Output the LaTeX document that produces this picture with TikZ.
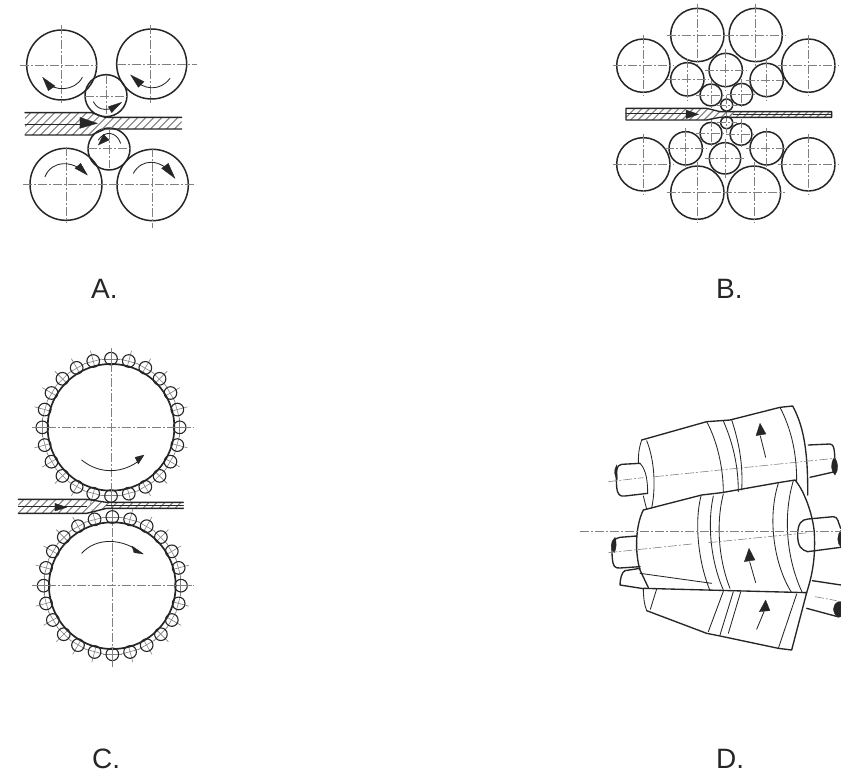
\documentclass[tikz,border=0pt]{standalone}
\usepackage{fontspec}
\setmainfont{Liberation Sans}
\definecolor{ink}{gray}{0.15}
\definecolor{thin}{gray}{0.5}
\tikzset{
  roll/.style={draw=ink,line width=1.5pt,line join=round},
  thick edge/.style={draw=ink,line width=1.35pt,line join=round,line cap=round},
  soft/.style={draw=ink,line width=.85pt,line cap=round},
  axis/.style={draw=thin,line width=.6pt,dash pattern=on 9pt off 2pt on 2pt off 2pt},
  head/.style={fill=ink,draw=ink,line width=.3pt},
  hatchline/.style={draw=thin,line width=1.1pt},
  answer/.style={inner sep=0pt,anchor=base west,font=\fontsize{28}{30}\selectfont,text=ink}
}
\newcommand{\Wheel}[3]{\draw[roll] (#1,#2) circle[radius=#3];}
\newcommand{\Cross}[6]{\draw[axis] (#1,#3) -- (#2,#3); \draw[axis] (#4,#5) -- (#4,#6);}
\newcommand{\WheelX}[3]{%
  \draw[roll] (#1,#2) circle[radius=#3];
  \draw[axis] ({#1-#3-12},#2) -- ({#1+#3+12},#2);
  \draw[axis] (#1,{#2-#3-12}) -- (#1,{#2+#3+12});}
\newcommand{\Hatch}[3]{\foreach \hx in {#1,#2,...,#3} {\draw[hatchline] (\hx,700) -- (\hx+400,300);}}
\begin{document}
\begin{tikzpicture}[x=1pt,y=-1pt]
\useasboundingbox (0,0) rectangle (841,776);

% ---------- A
\begin{scope}[shift={(10,0)},scale=1/3]
  \Wheel{155}{195}{105}\Wheel{425}{192}{105}
  \Wheel{288}{287}{63}\Wheel{297}{447}{63}
  \Wheel{168}{553}{108}\Wheel{428}{555}{107}
  \Cross{30}{260}{197}{155}{75}{310}
  \Cross{320}{560}{192}{422}{75}{310}
  \Cross{225}{350}{290}{288}{225}{345}
  \Cross{235}{360}{445}{297}{390}{505}
  \Cross{40}{300}{553}{168}{440}{670}
  \Cross{300}{555}{553}{428}{445}{685}
  \begin{scope}
    \clip (45,338) -- (245,338) -- (285,352) -- (515,352) -- (515,387) -- (285,387) -- (245,405) -- (45,405) -- cycle;
    \Hatch{-300}{-276}{500}
  \end{scope}
  \draw[thick edge] (45,338) -- (245,338) -- (285,352) -- (515,352);
  \draw[thick edge] (45,405) -- (245,405) -- (285,387) -- (515,387);
  \draw[soft] (45,372) -- (245,372);
  \fill[head] (262,370) -- (210,352) -- (210,385) -- cycle;
  \draw[soft] (217,232) .. controls (195,275) and (130,275) .. (110,245);
  \fill[head] (98,232) -- (135,258) -- (115,272) -- cycle;
  \draw[soft] (480,235) .. controls (450,275) and (400,270) .. (372,237);
  \fill[head] (362,225) -- (402,245) -- (385,262) -- cycle;
  \draw[soft] (250,305) .. controls (265,335) and (300,335) .. (330,310);
  \fill[head] (335,307) -- (295,320) -- (305,338) -- cycle;
  \draw[soft] (332,430) .. controls (320,395) and (285,390) .. (265,420);
  \fill[head] (265,435) -- (298,420) -- (280,403) -- cycle;
  \draw[soft] (105,530) .. controls (125,480) and (190,480) .. (225,520);
  \fill[head] (232,525) -- (195,505) -- (212,490) -- cycle;
  \draw[soft] (370,520) .. controls (395,475) and (450,475) .. (490,525);
  \fill[head] (495,535) -- (455,505) -- (475,490) -- cycle;
\end{scope}

% ---------- B
\begin{scope}[shift={(610,0)},scale=1/3]
  \foreach \cx/\cy in {262/105,437/105,100/197,595/197,100/493,595/493,262/578,432/578} {\WheelX{\cx}{\cy}{80}}
  \foreach \cx/\cy in {232/238,470/240,347/210,227/445,470/445} {\WheelX{\cx}{\cy}{50}}
  \WheelX{345}{475}{47}
  \foreach \cx/\cy in {303/285,395/283,303/400,393/403} {\WheelX{\cx}{\cy}{33}}
  \foreach \cx/\cy in {350/315,350/368} {\WheelX{\cx}{\cy}{18}}
  \begin{scope}
    \clip (48,325) -- (290,325) -- (330,335) -- (665,335) -- (665,352) -- (330,352) -- (290,360) -- (48,360) -- cycle;
    \Hatch{-300}{-278}{480}
  \end{scope}
  \draw[thick edge] (48,325) -- (290,325) -- (330,335) -- (665,335) -- (665,352) -- (330,352) -- (290,360) -- (48,360) -- cycle;
  \draw[soft] (48,341) -- (228,341);
  \draw[soft] (370,343) -- (665,343);
  \fill[head] (266,343) -- (228,330) -- (228,356) -- cycle;
\end{scope}

% ---------- C
\begin{scope}[shift={(10,340)},scale=1/3]
  \foreach \cy/\cx in {262/303,737/307} {
    \foreach \ang in {0,15,...,345} {
      \draw[draw=thin,line width=.6pt] ({\cx+190*cos(\ang)},{\cy+190*sin(\ang)}) -- ({\cx+238*cos(\ang)},{\cy+238*sin(\ang)});
      \draw[draw=thin,line width=.6pt] ({\cx+205*cos(\ang)-28*sin(\ang)},{\cy+205*sin(\ang)+28*cos(\ang)}) -- ({\cx+205*cos(\ang)+28*sin(\ang)},{\cy+205*sin(\ang)-28*cos(\ang)});
      \draw[draw=ink,line width=1.1pt] ({\cx+206*cos(\ang)},{\cy+206*sin(\ang)}) circle[radius=19];
    }
    \draw[draw=ink,line width=1.7pt] (\cx,\cy) circle[radius=190];
  }
  \Cross{65}{550}{262}{303}{25}{500}
  \Cross{65}{550}{737}{307}{520}{980}
  \begin{scope}
    \clip (25,478) -- (230,478) -- (290,487) -- (520,487) -- (520,505) -- (290,505) -- (230,520) -- (25,520) -- cycle;
    \Hatch{-300}{-276}{500}
  \end{scope}
  \draw[thick edge] (25,478) -- (230,478) -- (290,487) -- (520,487);
  \draw[thick edge] (25,520) -- (230,520) -- (290,505) -- (520,505);
  \draw[soft] (25,499) -- (230,499);
  \draw[soft] (290,496) -- (520,496);
  \fill[head] (170,502) -- (135,490) -- (135,513) -- cycle;
  \draw[soft] (215,360) .. controls (270,405) and (340,400) .. (390,360);
  \fill[head] (402,345) -- (375,352) -- (385,372) -- cycle;
  \draw[soft] (215,640) .. controls (260,590) and (340,595) .. (395,640);
  \fill[head] (400,642) -- (366,618) -- (372,638) -- cycle;
\end{scope}

% ---------- D
\begin{scope}[shift={(575,420)},scale=1/3]
  % top roller
  \draw[soft] (205,228) -- (215,268);
  \draw[thick edge] (200,60) -- (395,5) -- (465,0) -- (615,-38) -- (653,-42) .. controls (675,0) and (700,60) .. (698,225);
  \draw[soft] (200,60) .. controls (190,90) and (190,110) .. (190,130);
  \draw[soft] (215,62) .. controls (235,110) and (245,190) .. (230,265);
  \draw[soft] (395,5) .. controls (425,60) and (445,140) .. (445,218);
  \draw[soft] (445,3) .. controls (470,60) and (490,130) .. (490,215);
  \draw[soft] (470,0) .. controls (490,60) and (505,130) .. (500,210);
  \draw[soft] (615,-38) .. controls (645,20) and (665,90) .. (665,182);
  % top shafts
  \draw[thick edge] (195,130) -- (140,133) .. controls (125,135) and (122,150) .. (125,200) .. controls (127,225) and (135,230) .. (150,228) -- (218,220);
  \draw[soft] (195,130) .. controls (215,150) and (218,190) .. (218,220);
  \fill[head] (125,135) .. controls (115,150) and (118,170) .. (127,178) -- cycle;
  \draw[thick edge] (700,75) -- (765,72) .. controls (778,72) and (780,90) .. (780,155) -- (705,172);
  \fill[head] (778,112) .. controls (765,130) and (768,155) .. (780,165) .. controls (792,150) and (790,125) .. (778,112) -- cycle;
  \draw[axis] (100,185) -- (205,173);
  \draw[axis] (240,170) -- (780,115);
  \draw[soft] (572,112) -- (556,48);
  \fill[head] (555,10) -- (543,47) -- (573,42) -- cycle;
  % middle roller
  \draw[thick edge] (205,270) -- (380,225) -- (440,218) -- (610,188) -- (660,180) .. controls (690,215) and (715,290) .. (718,340) .. controls (722,420) and (710,470) .. (695,518);
  \draw[thick edge] (205,270) .. controls (180,320) and (180,400) .. (195,450) -- (220,503);
  \draw[soft] (195,460) -- (410,490);
  \draw[soft] (378,228) .. controls (355,320) and (375,440) .. (405,512);
  \draw[soft] (415,228) .. controls (395,320) and (410,430) .. (445,510);
  \draw[soft] (445,222) .. controls (420,320) and (435,430) .. (465,505);
  \draw[soft] (610,190) .. controls (575,300) and (600,440) .. (650,518);
  \draw[soft] (655,182) .. controls (620,300) and (640,430) .. (682,518);
  % middle shafts
  \draw[thick edge] (185,348) -- (135,352) .. controls (115,354) and (108,370) .. (112,415) .. controls (114,440) and (120,445) .. (135,444) -- (195,440);
  \fill[head] (120,352) .. controls (105,365) and (105,390) .. (118,398) .. controls (125,385) and (125,365) .. (120,352) -- cycle;
  \draw[thick edge] (698,395) .. controls (680,390) and (668,380) .. (668,345) .. controls (668,310) and (680,298) .. (700,297) -- (775,290) .. controls (790,290) and (790,310) .. (797,325);
  \draw[thick edge] (698,395) -- (797,382);
  \fill[head] (798,330) .. controls (785,345) and (785,370) .. (798,382) -- cycle;
  \draw[axis] (15,333) -- (798,333);
  \draw[axis] (100,398) -- (350,372);
  \draw[axis] (400,368) -- (700,338);
  \draw[soft] (542,488) -- (524,425);
  \fill[head] (522,385) -- (508,425) -- (540,420) -- cycle;
  % lower roller
  \draw[thick edge] (205,505) -- (695,518) -- (650,690) -- (610,685) -- (435,648) -- (395,640) -- (215,572);
  \draw[soft] (205,505) .. controls (205,530) and (208,555) .. (215,572);
  \draw[soft] (245,507) -- (226,568);
  \draw[soft] (445,514) -- (400,635);
  \draw[soft] (475,515) -- (435,645);
  \draw[soft] (497,516) -- (460,640);
  \draw[soft] (665,522) -- (610,685);
  % lower shafts
  \draw[thick edge] (195,445) -- (150,452) .. controls (140,455) and (135,480) .. (135,495) -- (205,506);
  \draw[thick edge] (712,482) -- (798,495);
  \draw[thick edge] (695,565) -- (788,590);
  \fill[head] (790,545) .. controls (770,555) and (770,580) .. (790,592) -- (798,590) -- (798,545) -- cycle;
  \draw[axis] (720,530) -- (785,542);
  \draw[soft] (545,628) -- (567,575);
  \fill[head] (572,540) -- (553,575) -- (585,572) -- cycle;
\end{scope}

\node[answer] (labelA) at (91,298) {A.};
\node[answer] (labelB) at (716,298) {B.};
\node[answer] (labelC) at (92,768) {C.};
\node[answer] (labelD) at (716,768) {D.};
\end{tikzpicture}
\end{document}
